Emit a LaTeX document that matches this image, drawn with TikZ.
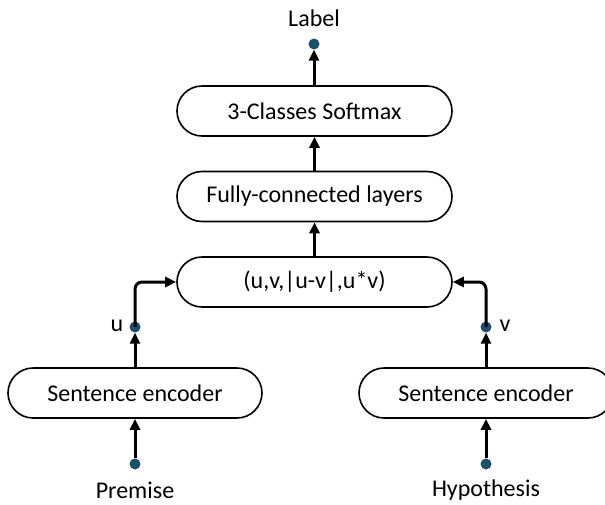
\documentclass[tikz,border=0pt]{standalone}
\usepackage{fontspec}
\setmainfont{Carlito}
\usetikzlibrary{arrows.meta,shapes.misc}
\definecolor{dotblue}{RGB}{27,79,110}
\tikzset{
  layer/.style={draw=black, line width=1.6pt, rounded rectangle, minimum height=50pt,
    inner sep=0pt, font=\fontsize{24}{28}\selectfont},
  pin/.style={circle, fill=dotblue, minimum size=11pt, inner sep=0pt},
  caption/.style={font=\fontsize{24}{28}\selectfont, inner sep=0pt},
  flow/.style={line width=3pt, -{Triangle[length=11pt,width=10pt]}, rounded corners=7pt}
}
\begin{document}
\begin{tikzpicture}[x=1pt,y=-1pt]
  \useasboundingbox (0,0) rectangle (605,504);
  % stacked layers
  \node[layer, minimum width=275pt] (soft) at (314.5,111) {3-Classes Softmax};
  \node[layer, minimum width=275pt] (fc) at (314.5,196.5) {Fully-connected layers};
  \node[layer, minimum width=275pt] (feat) at (314.5,282) {(u,v,|u-v|,u*v)};
  \node[layer, minimum width=254pt] (encl) at (135,393) {Sentence encoder};
  \node[layer, minimum width=254pt] (encr) at (486,393) {Sentence encoder};
  % end points
  \node[pin] (lab) at (314,44) {};
  \node[pin] (u) at (135,327) {};
  \node[pin] (v) at (486,327) {};
  \node[pin] (prem) at (135,464) {};
  \node[pin] (hyp) at (486,464) {};
  \node[caption] (labt) at (314,18) {Label};
  \node[caption] (ut) at (117,326) {u};
  \node[caption] (vt) at (505,326) {v};
  \node[caption] (premt) at (135,490) {Premise};
  \node[caption] (hypt) at (486,490) {Hypothesis};
  % connections
  \draw[flow] (soft.north -| lab) -- (lab.south);
  \draw[flow] (fc.north) -- (soft.south);
  \draw[flow] (feat.north) -- (fc.south);
  \draw[flow] (encl.north) -- (u.south);
  \draw[flow] (encr.north) -- (v.south);
  \draw[flow] (prem.north) -- (encl.south);
  \draw[flow] (hyp.north) -- (encr.south);
  \draw[flow] (u.center) |- (feat.west);
  \draw[flow] (v.center) |- (feat.east);
\end{tikzpicture}
\end{document}
